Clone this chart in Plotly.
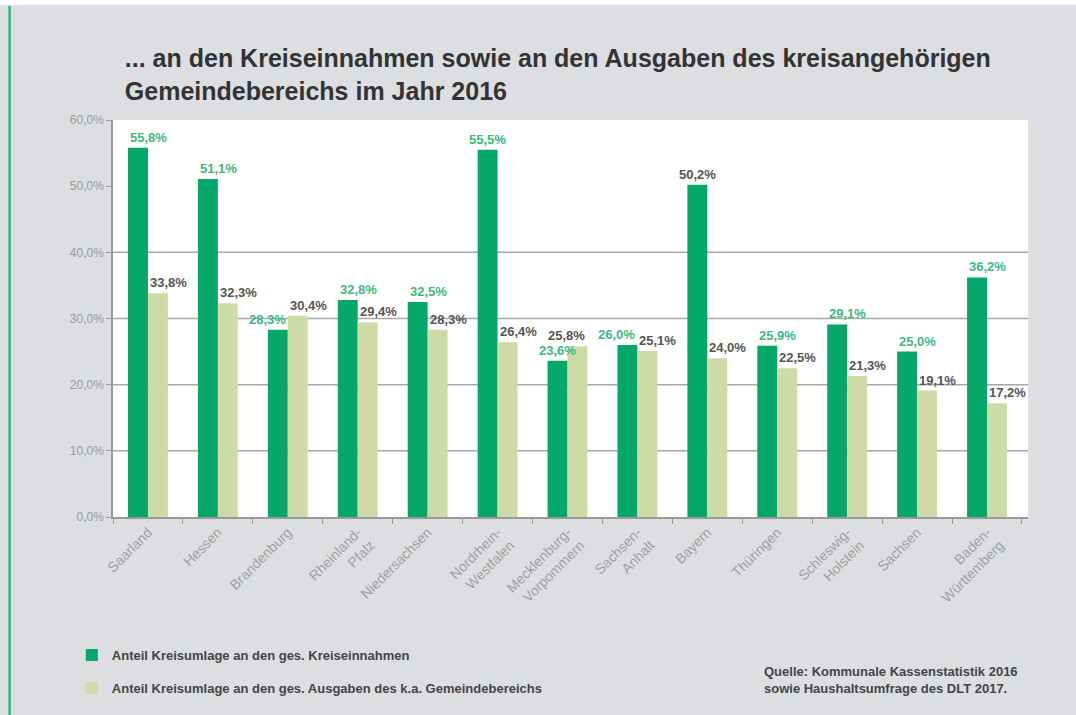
import plotly.graph_objects as go

# Daten
laender = ["Saarland", "Hessen", "Brandenburg", "Rheinland-<br>Pfalz", "Niedersachsen",
           "Nordrhein-<br>Westfalen", "Mecklenburg-<br>Vorpommern", "Sachsen-<br>Anhalt",
           "Bayern", "Thüringen", "Schleswig-<br>Holstein", "Sachsen", "Baden-<br>Württemberg"]
anteil_einnahmen = [55.8, 51.1, 28.3, 32.8, 32.5, 55.5, 23.6, 26.0, 50.2, 25.9, 29.1, 25.0, 36.2]
anteil_ausgaben = [33.8, 32.3, 30.4, 29.4, 28.3, 26.4, 25.8, 25.1, 24.0, 22.5, 21.3, 19.1, 17.2]
y_ticks = [0, 10, 20, 30, 40, 50, 60]
grid_lines = [10, 20, 30, 40]

DUNKEL = "#06a76b"
HELL = "#cfdba7"
LABEL_GRUEN = "#3cb97f"
LABEL_GRAU = "#555555"
FONT = "Liberation Sans, Arial, sans-serif"
BAR_PX = 20  # ungefähre Balkenbreite in Pixel

# Ausrichtung der Wertbeschriftung je Balken (Standard: linksbündig)
ausrichtung_dunkel = {"Brandenburg": "right", "Nordrhein-<br>Westfalen": "center",
                      "Mecklenburg-<br>Vorpommern": "center", "Sachsen-<br>Anhalt": "right",
                      "Bayern": "center"}
ausrichtung_hell = {"Mecklenburg-<br>Vorpommern": "right"}

def fmt(v):
    return f"{v:.1f}%".replace(".", ",")

# Bayern-Label ist im Original grau
farben_einnahmen = [LABEL_GRAU if l == "Bayern" else LABEL_GRUEN for l in laender]

fig = go.Figure()
fig.add_trace(go.Bar(
    x=laender, y=anteil_einnahmen,
    name="Anteil Kreisumlage an den ges. Kreiseinnahmen",
    marker=dict(color=DUNKEL, line=dict(width=0)),
    legendgroup="a",
))
fig.add_trace(go.Bar(
    x=laender, y=anteil_ausgaben,
    name="Anteil Kreisumlage an den ges. Ausgaben des k.a. Gemeindebereichs",
    marker=dict(color=HELL, line=dict(width=0)),
    legendgroup="b",
))

def label(land, wert, farbe, links_px, anchor):
    shift = {"left": links_px, "center": links_px + BAR_PX / 2, "right": links_px + BAR_PX}[anchor]
    fig.add_annotation(x=land, y=wert, text=f"<b>{fmt(wert)}</b>",
                       xanchor=anchor, yanchor="bottom", xshift=shift, yshift=1, showarrow=False,
                       font=dict(family=FONT, size=13, color=farbe))

for i, land in enumerate(laender):
    label(land, anteil_einnahmen[i], farben_einnahmen[i], -BAR_PX,
          ausrichtung_dunkel.get(land, "left"))
    label(land, anteil_ausgaben[i], LABEL_GRAU, 0, ausrichtung_hell.get(land, "left"))

# Gitterlinien (ohne 50%)
for g in grid_lines:
    fig.add_shape(type="line", xref="paper", x0=0, x1=1, yref="y", y0=g, y1=g,
                  line=dict(color="#a8a8a8", width=1.5), layer="below")

# Rahmen: weißer Streifen oben, grüne Linie links
fig.add_shape(type="rect", xref="paper", yref="paper", x0=-0.2, x1=1.1, y0=1.29, y1=1.4,
              fillcolor="white", line=dict(width=0), layer="below")
fig.add_shape(type="line", xref="paper", yref="paper", x0=-0.113, x1=-0.113, y0=-0.5, y1=1.287,
              line=dict(color="#2fb67c", width=2.5))

fig.add_annotation(
    text="<b>Quelle: Kommunale Kassenstatistik 2016<br>sowie Haushaltsumfrage des DLT 2017.</b>",
    xref="paper", yref="paper", x=0.709, y=-0.365, xanchor="left", yanchor="top",
    align="left", showarrow=False, font=dict(family=FONT, size=13, color="#444444"),
)

fig.update_layout(
    width=1076, height=715,
    paper_bgcolor="#dcdee1", plot_bgcolor="white",
    margin=dict(l=113, r=48, t=120, b=198),
    barmode="group", bargap=0.43, bargroupgap=0,
    title=dict(
        text="<b>... an den Kreiseinnahmen sowie an den Ausgaben des kreisangehörigen<br>Gemeindebereichs im Jahr 2016</b>",
        x=0.116, xanchor="left", y=0.906, yanchor="top",
        font=dict(family=FONT, size=25, color="#333333"),
    ),
    font=dict(family=FONT),
    xaxis=dict(
        tickangle=-45, tickfont=dict(size=14, color="#a0a0a0"),
        showline=True, linecolor="#999999", linewidth=1.5,
        ticks="outside", tickson="boundaries", ticklen=5, tickcolor="#999999",
        showgrid=False,
    ),
    yaxis=dict(
        range=[0, 60], tickvals=y_ticks,
        ticktext=[fmt(v) for v in y_ticks],
        tickfont=dict(size=12, color="#9a9a9a"),
        showline=True, linecolor="#999999", linewidth=1.5,
        ticks="outside", ticklen=5, tickcolor="#999999",
        showgrid=False, zeroline=False,
    ),
    legend=dict(
        x=-0.045, y=-0.31, xanchor="left", yanchor="top",
        bgcolor="rgba(0,0,0,0)", traceorder="grouped", tracegroupgap=13,
        font=dict(family=FONT, size=13, color="#444444", weight="bold"),
        itemwidth=30,
    ),
)

fig.write_html("out.html", config={"displayModeBar": False},
               post_script="document.body.style.margin='0';")
